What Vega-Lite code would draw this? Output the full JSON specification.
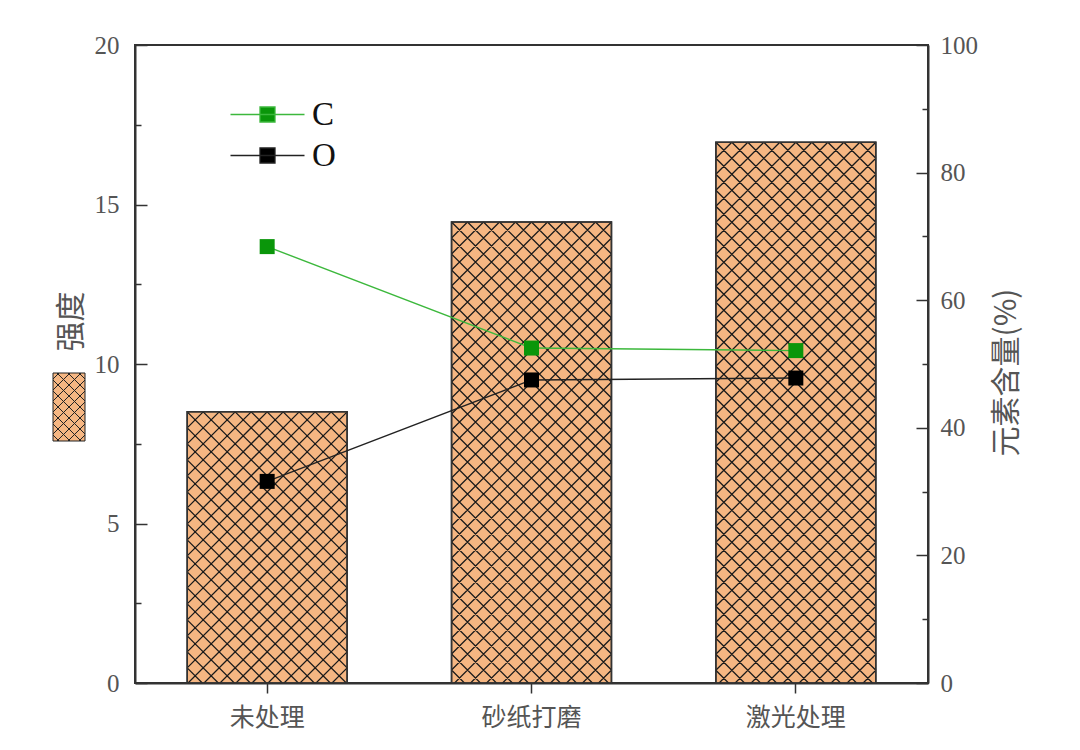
{
  "$schema": "https://vega.github.io/schema/vega-lite/v6.json",
  "width": 793,
  "height": 638,
  "autosize": "none",
  "padding": {"left": 135, "top": 45, "right": 152, "bottom": 67},
  "background": "#ffffff",
  "config": {
    "view": {"stroke": "#333333", "strokeWidth": 2},
    "axis": {
      "grid": false,
      "domainColor": "#333333",
      "domainWidth": 2,
      "tickColor": "#333333",
      "tickWidth": 1.5,
      "labelColor": "#555555",
      "titleColor": "#555555",
      "labelFont": "Liberation Serif",
      "titleFont": "Noto Sans CJK SC",
      "titleFontWeight": "normal"
    }
  },
  "data": {
    "values": [
      {"处理": "未处理", "强度": 8.5, "C": 68.4, "O": 31.6},
      {"处理": "砂纸打磨", "强度": 14.45, "C": 52.5, "O": 47.5},
      {"处理": "激光处理", "强度": 16.95, "C": 52.1, "O": 47.8}
    ]
  },
  "layer": [
    {
      "encoding": {
        "x": {
          "field": "处理",
          "type": "nominal",
          "sort": ["未处理", "砂纸打磨", "激光处理"],
          "scale": {"paddingInner": 0.395, "paddingOuter": 0.1975},
          "axis": {
            "title": null,
            "labelAngle": 0,
            "tickSize": 10,
            "labelPadding": 12,
            "labelFont": "Noto Sans CJK SC",
            "labelFontSize": 25
          }
        },
        "y": {
          "field": "强度",
          "type": "quantitative",
          "scale": {"domain": [0, 20]},
          "axis": {
            "title": "强度",
            "titleX": -64,
            "titleY": 276,
            "titleAngle": 270,
            "titleAlign": "center",
            "titleBaseline": "middle",
            "titleFontSize": 30,
            "values": [0, 2.5, 5, 7.5, 10, 12.5, 15, 17.5, 20],
            "labelExpr": "datum.value % 5 === 0 ? datum.label : ''",
            "tickSize": {"condition": {"test": "datum.value % 5 === 0", "value": -12}, "value": -6},
            "labelFontSize": 25,
            "labelPadding": 28
          }
        }
      },
      "layer": [
        {
          "mark": {"type": "bar", "stroke": "#333333", "strokeWidth": 1.5},
          "encoding": {
            "fill": {
              "datum": "强度",
              "scale": {"range": ["#f5b682"]},
              "legend": {
                "orient": "none",
                "legendX": -71,
                "legendY": 357,
                "title": null,
                "padding": 0,
                "labelExpr": "''",
                "symbolType": "M-16,-34H16V34H-16Z M10,-34L16,-28 M-1,-34L16,-17 M-12,-34L16,-6 M-16,-27L16,5 M-16,-16L16,16 M-16,-5L16,27 M-16,6L12,34 M-16,17L1,34 M-16,28L-10,34 M-16,-28L-10,-34 M-16,-17L1,-34 M-16,-6L12,-34 M-16,5L16,-27 M-16,16L16,-16 M-16,27L16,-5 M-12,34L16,6 M-1,34L16,17 M10,34L16,28",
                "symbolSize": 4,
                "symbolOpacity": 1,
                "symbolStrokeColor": "#222222",
                "symbolStrokeWidth": 1,
                "encode": {"symbols": {"update": {"stroke": {"value": "#222222"}, "strokeWidth": {"value": 1}}}}
              }
            }
          }
        },
        {
          "mark": {
            "type": "point",
            "shape": "M64,0L80,16 M48,0L80,32 M32,0L80,48 M16,0L80,64 M0,0L80,80 M-16,0L80,96 M-32,0L80,112 M-48,0L80,128 M-64,0L80,144 M-80,0l160,160 M-80,16l160,160 M-80,32l160,160 M-80,48l160,160 M-80,64l160,160 M-80,80l160,160 M-80,96l160,160 M-80,112l160,160 M-80,128l160,160 M-80,144l160,160 M-80,160l160,160 M-80,176l160,160 M-80,192l160,160 M-80,208l160,160 M-80,224l160,160 M-80,240l160,160 M-80,256l160,160 M-80,272l160,160 M-80,288l160,160 M-80,304l160,160 M-80,320l160,160 M-80,336l160,160 M-80,352l160,160 M-80,368l160,160 M-80,384l160,160 M-80,400l160,160 M-80,416l160,160 M-80,432l160,160 M-80,448l160,160 M-80,464l160,160 M-80,480l160,160 M-80,496l160,160 M-80,512l160,160 M-80,528l160,160 M-80,544l160,160 M-80,560l160,160 M-64,0L-80,16 M-48,0L-80,32 M-32,0L-80,48 M-16,0L-80,64 M0,0L-80,80 M16,0L-80,96 M32,0L-80,112 M48,0L-80,128 M64,0L-80,144 M80,0l-160,160 M80,16l-160,160 M80,32l-160,160 M80,48l-160,160 M80,64l-160,160 M80,80l-160,160 M80,96l-160,160 M80,112l-160,160 M80,128l-160,160 M80,144l-160,160 M80,160l-160,160 M80,176l-160,160 M80,192l-160,160 M80,208l-160,160 M80,224l-160,160 M80,240l-160,160 M80,256l-160,160 M80,272l-160,160 M80,288l-160,160 M80,304l-160,160 M80,320l-160,160 M80,336l-160,160 M80,352l-160,160 M80,368l-160,160 M80,384l-160,160 M80,400l-160,160 M80,416l-160,160 M80,432l-160,160 M80,448l-160,160 M80,464l-160,160 M80,480l-160,160 M80,496l-160,160 M80,512l-160,160 M80,528l-160,160 M80,544l-160,160 M80,560l-160,160",
            "size": 4,
            "filled": false,
            "stroke": "#1a1a1a",
            "strokeWidth": 1.3,
            "opacity": 1,
            "clip": true
          }
        },
        {
          "mark": {"type": "bar", "fill": "transparent", "stroke": "#333333", "strokeWidth": 1.5}
        }
      ]
    },
    {
      "transform": [{"fold": ["C", "O"], "as": ["元素", "含量"]}],
      "encoding": {
        "x": {"field": "处理", "type": "nominal", "sort": ["未处理", "砂纸打磨", "激光处理"]},
        "y": {
          "field": "含量",
          "type": "quantitative",
          "scale": {"domain": [0, 100]},
          "axis": {
            "orient": "right",
            "title": "元素含量(%)",
            "titleX": 78,
            "titleY": 327,
            "titleAngle": 270,
            "titleAlign": "center",
            "titleBaseline": "middle",
            "titleFontSize": 30,
            "values": [0, 10, 20, 30, 40, 50, 60, 70, 80, 90, 100],
            "labelExpr": "datum.value % 20 === 0 ? datum.label : ''",
            "tickSize": {"condition": {"test": "datum.value % 20 === 0", "value": -12}, "value": -6},
            "labelFontSize": 25,
            "labelPadding": 24
          }
        }
      },
      "layer": [
        {
          "mark": {"type": "line", "strokeWidth": 1.4},
          "encoding": {
            "detail": {"field": "元素", "type": "nominal"},
            "stroke": {"condition": {"test": "datum['元素'] === 'C'", "value": "#3cb83c"}, "value": "#222222"}
          }
        },
        {
          "mark": {"type": "point", "shape": "square", "filled": true, "size": 225, "opacity": 1},
          "encoding": {
            "color": {
              "field": "元素",
              "type": "nominal",
              "scale": {"domain": ["C", "O"], "range": ["#0a960a", "#000000"]},
              "legend": {
                "orient": "none",
                "legendX": 116,
                "legendY": 53,
                "title": null,
                "padding": 0,
                "symbolType": "M-37,0H37M-7.5,-7.5H7.5V7.5H-7.5Z",
                "symbolSize": 4,
                "symbolOpacity": 1,
                "symbolStrokeWidth": 1.3,
                "labelFont": "Liberation Serif",
                "labelFontSize": 33,
                "labelColor": "#111111",
                "labelOffset": 28,
                "rowPadding": 7,
                "encode": {"symbols": {"update": {"stroke": {"signal": "datum.value === 'C' ? '#3cb83c' : '#222222'"}, "strokeWidth": {"value": 1.3}}}}
              }
            }
          }
        }
      ]
    }
  ],
  "resolve": {"scale": {"y": "independent"}}
}
